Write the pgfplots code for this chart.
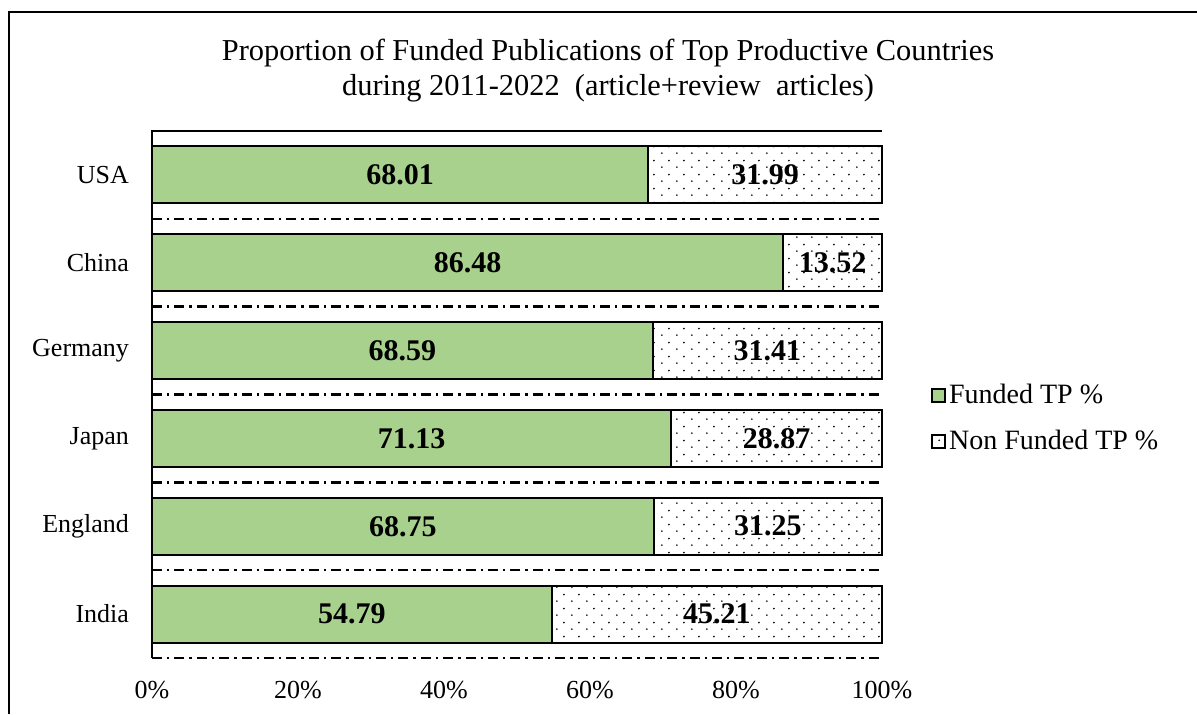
\documentclass[border=0pt]{standalone}
\usepackage{fontspec}
\setmainfont{Liberation Serif}
\usepackage{pgfplots}
\pgfplotsset{compat=1.18}
\usepackage{pgfplotstable}
\usetikzlibrary{patterns}
\definecolor{fundgreen}{HTML}{A9D18E}
\pgfdeclarepatternformonly{sparsedots}{\pgfpointorigin}{\pgfqpoint{7.5pt}{7pt}}{\pgfqpoint{7.5pt}{7pt}}{%
 \pgfpathcircle{\pgfqpoint{1pt}{1pt}}{0.5pt}%
 \pgfpathcircle{\pgfqpoint{4.75pt}{4.5pt}}{0.5pt}%
 \pgfusepath{fill}}

\pgfplotstableread{
idx funded nonfunded
0 54.79 45.21
1 68.75 31.25
2 71.13 28.87
3 68.59 31.41
4 86.48 13.52
5 68.01 31.99
}\datatable

\begin{document}
\begin{tikzpicture}
\path[use as bounding box] (0,0) rectangle (598.5pt,357pt);
\draw[line width=1.4pt] (4.5pt,0) -- (4.5pt,351pt) -- (598.5pt,351pt);
\begin{axis}[
 at={(76pt,28pt)}, anchor=south west,
 scale only axis, width=365pt, height=263.5pt,
 xbar stacked, bar width=0.65,
 xmin=0, xmax=100, ymin=-0.5, ymax=5.5,
 xtick={0,20,...,100}, xticklabels={0\%,20\%,40\%,60\%,80\%,100\%},
 ytick={0,...,5}, yticklabels={India,England,Japan,Germany,China,USA},
 tick style={draw=none}, major tick length=0pt,
 axis line style={draw=none},
 extra y ticks={-0.5,0.5,1.5,2.5,3.5,4.5},
 extra y tick labels={},
 extra y tick style={grid=major, major grid style={black, line width=1.2pt, dash pattern=on 5pt off 2.5pt on 1.2pt off 2.5pt}},
 tick label style={font=\fontsize{13}{15}\selectfont},
 xticklabel style={yshift=-8pt},
 yticklabel style={xshift=-8pt},
 /pgf/number format/assume math mode=true,
 title={Proportion of Funded Publications of Top Productive Countries\\during 2011-2022\ \ (article+review\ \ articles)},
 title style={at={(0.6247,1)}, anchor=south, align=center, font=\fontsize{15.2}{17.5}\selectfont, yshift=5pt},
 legend style={draw=none, fill=none, at={(1.059,0.4545)}, anchor=west, font=\fontsize{14}{16}\selectfont, row sep=9pt, nodes={inner sep=1.5pt}},
 legend cell align=left,
 point meta=explicit,
 nodes near coords={\pgfmathprintnumber[fixed,fixed zerofill,precision=2]{\pgfplotspointmeta}},
 every node near coord/.style={anchor=center, font=\bfseries\fontsize{15}{17}\selectfont, text=black},
 clip=false,
]
\addplot[fill=fundgreen, draw=black, line width=1pt, legend image code/.code={\draw[fill=fundgreen, line width=0.9pt] (0pt,-3.2pt) rectangle (6.4pt,3.2pt);}] table[y=idx, x=funded, meta=funded] {\datatable};
\addplot[fill=white, draw=black, line width=1pt, postaction={pattern=sparsedots}, legend image code/.code={\draw[fill=white, line width=0.9pt] (0pt,-3.2pt) rectangle (6.4pt,3.2pt);}] table[y=idx, x=nonfunded, meta=nonfunded] {\datatable};
\legend{Funded TP \%, Non Funded TP \%}
\draw[line width=1pt] (rel axis cs:0,0) -- (rel axis cs:0,1) -- (rel axis cs:1,1);
\end{axis}
\end{tikzpicture}
\end{document}
